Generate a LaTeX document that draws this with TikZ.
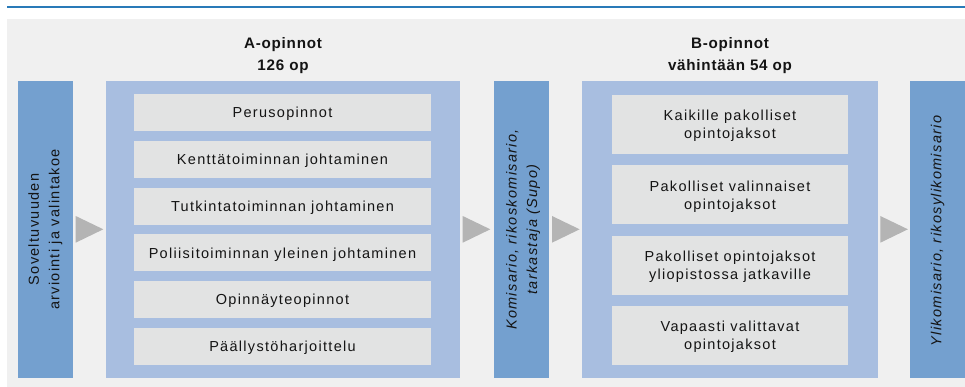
\documentclass[tikz,border=0pt]{standalone}
\usepackage{fontspec}
\setmainfont{Liberation Sans}[LetterSpace=9]
\newfontfamily\titlefont{Liberation Sans}[LetterSpace=5]
\definecolor{bggray}{RGB}{240,240,240}
\definecolor{barblue}{RGB}{116,160,207}
\definecolor{lightblue}{RGB}{168,190,224}
\definecolor{boxgray}{RGB}{226,227,227}
\definecolor{arrgray}{RGB}{180,180,180}
\definecolor{lineblue}{RGB}{41,122,184}
\definecolor{txt}{RGB}{20,20,20}
\tikzset{
  bar/.style={rectangle, fill=barblue, inner sep=0pt, outer sep=0pt, minimum width=55, minimum height=297},
  outerbox/.style={rectangle, fill=lightblue, inner sep=0pt, outer sep=0pt, minimum height=297},
  abox/.style={rectangle, fill=boxgray, inner sep=0pt, outer sep=0pt, minimum width=297, minimum height=37, text height=10.4pt, text depth=0pt, text=txt, font=\fontsize{14.5}{18}\selectfont},
  bbox/.style={rectangle, fill=boxgray, inner sep=0pt, outer sep=0pt, minimum width=236, minimum height=59, align=center, text depth=0pt, text=txt, font=\fontsize{14.5}{18}\selectfont},
  titletext/.style={anchor=base, inner sep=0pt, text=txt, font=\titlefont\bfseries\fontsize{15.2}{18}\selectfont},
  bartext/.style={rotate=90, align=center, inner sep=0pt, text=txt, font=\fontsize{14.5}{20.5}\selectfont},
  arr/.style={fill=arrgray}
}
\begin{document}
\begin{tikzpicture}[x=1pt,y=-1pt]
\useasboundingbox (0,0) rectangle (965,387);
\fill[bggray] (7,19) rectangle (965,387);
\draw[lineblue, line width=2pt] (7,6.7) -- (965,6.7);

% bars
\node[bar] (left) at (45.5,229.5) {};
\node[bar] (mid) at (521.5,229.5) {};
\node[bar] (right) at (937.5,229.5) {};
\node[outerbox, minimum width=354] (aouter) at (283,229.5) {};
\node[outerbox, minimum width=296] (bouter) at (730,229.5) {};

% titles
\node[titletext] (at1) at (283,49) {A-opinnot};
\node[titletext] (at2) at (283,70.7) {126 op};
\node[titletext] (bt1) at (730,48.5) {B-opinnot};
\node[titletext] (bt2) at (730,70.2) {vähintään 54 op};

% A boxes
\node[abox] (a1) at (282.5,112.5) {Perusopinnot};
\node[abox] (a2) at (282.5,159.3) {Kenttätoiminnan johtaminen};
\node[abox] (a3) at (282.5,206.1) {Tutkintatoiminnan johtaminen};
\node[abox] (a4) at (282.5,252.9) {Poliisitoiminnan yleinen johtaminen};
\node[abox] (a5) at (282.5,299.7) {Opinnäyteopinnot};
\node[abox] (a6) at (282.5,346.5) {Päällystöharjoittelu};

% B boxes
\node[bbox] (b1) at (730,124.5) {Kaikille pakolliset\\opintojaksot};
\node[bbox] (b2) at (730,194.8) {Pakolliset valinnaiset\\opintojaksot};
\node[bbox] (b3) at (730,265.1) {Pakolliset opintojaksot\\yliopistossa jatkaville};
\node[bbox] (b4) at (730,335.4) {Vapaasti valittavat\\opintojaksot};

% bar texts
\node[bartext] (lt) at (left.center) {Soveltuvuuden\\arviointi ja valintakoe};
\node[bartext, font=\itshape\fontsize{14.5}{20.5}\selectfont] (mt) at ([xshift=1.5]mid.center) {Komisario, rikoskomisario,\\tarkastaja (Supo)};
\node[bartext, font=\itshape\fontsize{14.5}{20.5}\selectfont] (rt) at ([yshift=-1.5]right.center) {Ylikomisario, rikosylikomisario};

% arrows
\fill[arr] (75.7,216) -- (103.3,229.3) -- (75.7,242.7) -- cycle;
\fill[arr] (462.7,216) -- (490.3,229.3) -- (462.7,242.7) -- cycle;
\fill[arr] (552,216) -- (579.6,229.3) -- (552,242.7) -- cycle;
\fill[arr] (880.3,216) -- (907.9,229.3) -- (880.3,242.7) -- cycle;
\end{tikzpicture}
\end{document}
